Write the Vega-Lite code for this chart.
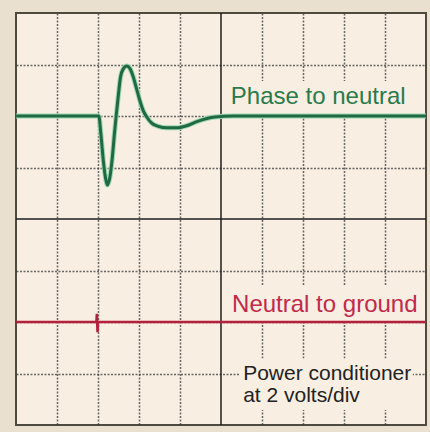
{
  "$schema": "https://vega.github.io/schema/vega-lite/v6.json",
  "width": 410,
  "height": 412,
  "autosize": {"type": "none"},
  "padding": {"left": 16, "top": 13, "right": 4, "bottom": 7},
  "background": "#e9e0cf",
  "config": {
    "view": {"fill": "#f8eee2", "stroke": "#4f4a3e", "strokeWidth": 2},
    "font": "Liberation Sans"
  },
  "datasets": {
    "phase": [
      {"t": 0, "v": 2}, {"t": 1.0, "v": 2}, {"t": 2.02, "v": 2},
      {"t": 2.07, "v": 1.65}, {"t": 2.13, "v": 1.13}, {"t": 2.19, "v": 0.77},
      {"t": 2.23, "v": 0.66}, {"t": 2.29, "v": 0.81}, {"t": 2.35, "v": 1.2},
      {"t": 2.4, "v": 1.65}, {"t": 2.44, "v": 1.98}, {"t": 2.5, "v": 2.43},
      {"t": 2.55, "v": 2.76}, {"t": 2.62, "v": 2.92}, {"t": 2.7, "v": 2.97},
      {"t": 2.78, "v": 2.92}, {"t": 2.86, "v": 2.76}, {"t": 2.94, "v": 2.53},
      {"t": 3.02, "v": 2.3}, {"t": 3.1, "v": 2.11}, {"t": 3.19, "v": 1.98},
      {"t": 3.31, "v": 1.86}, {"t": 3.47, "v": 1.8}, {"t": 3.67, "v": 1.77},
      {"t": 3.92, "v": 1.77}, {"t": 4.16, "v": 1.81}, {"t": 4.41, "v": 1.89},
      {"t": 4.85, "v": 1.98}, {"t": 5.3, "v": 2}, {"t": 7, "v": 2}, {"t": 10, "v": 2}
    ],
    "neutral": [
      {"t": 0, "v": -2}, {"t": 1.96, "v": -2}, {"t": 1.972, "v": -1.84},
      {"t": 1.988, "v": -2.2}, {"t": 2.0, "v": -2}, {"t": 10, "v": -2}
    ],
    "boxes": [
      {"x0": 5.17, "x1": 9.66, "y0": 2.04, "y1": 2.68},
      {"x0": 5.17, "x1": 9.9, "y0": -1.96, "y1": -1.3},
      {"x0": 5.46, "x1": 9.68, "y0": -2.71, "y1": -3.71}
    ],
    "center": [{"t": 5, "v": 0}],
    "labels": [
      {"label": "Phase to neutral", "t": 5.24, "v": 2.24, "kind": "phase"},
      {"label": "Neutral to ground", "t": 5.27, "v": -1.81, "kind": "neutral"}
    ],
    "note": [
      {"label": "Power conditioner\nat 2 volts/div", "t": 5.54, "v": -3.12}
    ]
  },
  "layer": [
    {
      "data": {"name": "boxes"},
      "mark": {"type": "rect", "fill": "#f8eee2"},
      "encoding": {
        "x": {"field": "x0", "type": "quantitative", "scale": {"domain": [0, 10], "nice": false, "zero": false},
          "axis": {"grid": true, "labels": false, "ticks": false, "domain": false, "title": null,
            "values": [1, 2, 3, 4, 6, 7, 8, 9], "gridDash": [2, 1.5], "gridColor": "#3a3a3a", "gridWidth": 1.5, "gridOpacity": 0.75}},
        "x2": {"field": "x1"},
        "y": {"field": "y0", "type": "quantitative", "scale": {"domain": [-4, 4], "nice": false, "zero": false},
          "axis": {"grid": true, "labels": false, "ticks": false, "domain": false, "title": null,
            "values": [-3, -2, -1, 1, 2, 3], "gridDash": [2, 1.5], "gridColor": "#3a3a3a", "gridWidth": 1.5, "gridOpacity": 0.75}},
        "y2": {"field": "y1"}
      }
    },
    {
      "data": {"name": "center"},
      "mark": {"type": "rule", "color": "#1e1e1e", "strokeWidth": 1.5},
      "encoding": {"x": {"field": "t", "type": "quantitative"}}
    },
    {
      "data": {"name": "center"},
      "mark": {"type": "rule", "color": "#1e1e1e", "strokeWidth": 1.5},
      "encoding": {"y": {"field": "v", "type": "quantitative"}}
    },
    {
      "data": {"name": "phase"},
      "mark": {"type": "line", "color": "#9ed6b0", "strokeWidth": 5, "interpolate": "monotone"},
      "encoding": {
        "x": {"field": "t", "type": "quantitative"},
        "y": {"field": "v", "type": "quantitative"}
      }
    },
    {
      "data": {"name": "phase"},
      "mark": {"type": "line", "color": "#1f6a42", "strokeWidth": 3, "interpolate": "monotone"},
      "encoding": {
        "x": {"field": "t", "type": "quantitative"},
        "y": {"field": "v", "type": "quantitative"}
      }
    },
    {
      "data": {"name": "neutral"},
      "mark": {"type": "line", "color": "#b3213c", "strokeWidth": 2.5},
      "encoding": {
        "x": {"field": "t", "type": "quantitative"},
        "y": {"field": "v", "type": "quantitative"}
      }
    },
    {
      "data": {"name": "labels"},
      "mark": {"type": "text", "align": "left", "baseline": "alphabetic", "fontSize": 24},
      "encoding": {
        "x": {"field": "t", "type": "quantitative"},
        "y": {"field": "v", "type": "quantitative"},
        "text": {"field": "label"},
        "color": {"field": "kind", "type": "nominal", "scale": {"domain": ["phase", "neutral"], "range": ["#2a7a4c", "#c02a4a"]}, "legend": null}
      }
    },
    {
      "data": {"name": "note"},
      "mark": {"type": "text", "align": "left", "baseline": "alphabetic", "fontSize": 21, "lineBreak": "\n", "lineHeight": 22, "color": "#222222"},
      "encoding": {
        "x": {"field": "t", "type": "quantitative"},
        "y": {"field": "v", "type": "quantitative"},
        "text": {"field": "label"}
      }
    }
  ]
}
